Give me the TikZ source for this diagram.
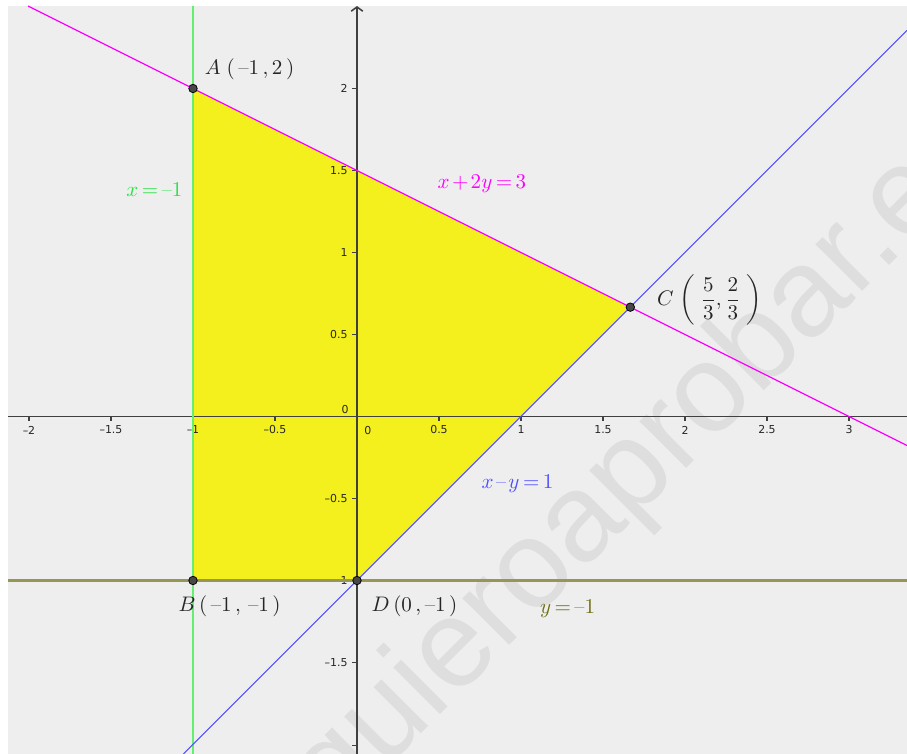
\documentclass[tikz,border=0pt]{standalone}
\usepackage{amsmath}
\usepackage{fontspec}
\newfontfamily\tickfont{DejaVu Sans}
\newfontfamily\markfont{Liberation Sans}
\usepackage{tikz}
\usetikzlibrary{arrows.meta}

\definecolor{panelgray}{RGB}{238,238,238}
\definecolor{regionyellow}{RGB}{243,240,30}
\definecolor{magline}{RGB}{255,0,255}
\definecolor{blueline}{RGB}{80,80,255}
\definecolor{greenline}{RGB}{100,240,110}
\definecolor{greentext}{RGB}{40,225,70}
\definecolor{oliveline}{RGB}{150,150,85}
\definecolor{olivetext}{RGB}{110,110,20}

\newcommand{\negsign}{\mathord{\text{\textendash}}}
\newcommand{\subsign}{\mathbin{\text{\textendash}}}
\newcommand{\tighteq}{\medmuskip=2mu\relax\thickmuskip=3mu\relax}

\begin{document}
\begin{tikzpicture}[x=3cm, y=3cm,
  axisline/.style={draw=black!75, line width=0.8pt},
  ticklabel/.style={font=\tickfont\fontsize{5.7}{6}\selectfont, text=black!85, inner sep=0pt},
  eqlabel/.style={font={\fontsize{10.5}{12}\selectfont\tighteq}, inner sep=0pt},
  ptlabel/.style={font=\fontsize{11}{13}\selectfont, text=black!85, inner sep=0pt},
  vertex/.style={circle, draw=black, fill=black!72, line width=0.4pt, inner sep=0pt, minimum size=4.4pt}]
\useasboundingbox (-2.1768,-2.0579) rectangle (3.3537,2.5396);
% graphics view
\fill[panelgray] (-2.128,-2.0579) rectangle (3.3537,2.503);
\begin{scope}
\clip (-2.128,-2.0579) rectangle (3.3537,2.503);
\node[rotate=45, text=black!13, inner sep=0pt, font=\markfont\fontsize{65}{70}\selectfont] (wm) at (1.756,-0.29) {quieroaprobar.es};
\end{scope}

% vertices
\coordinate (A) at (-1,2);
\coordinate (B) at (-1,-1);
\coordinate (C) at (5/3,2/3);
\coordinate (D) at (0,-1);

% feasible region
\fill[regionyellow] (A) -- (C) -- (D) -- (B) -- cycle;

% axes
\coordinate (xl) at (-2.128,0);
\coordinate (xr) at (3.3537,0);
\coordinate (yb) at (0,-2.0579);
\coordinate (yt) at (0,2.503);
\draw[axisline] (xl) -- (xr);
\draw[axisline, -{Straight Barb[length=2.2pt,width=6pt]}] (yb) -- (yt);
\foreach \v/\t [count=\i] in {-2/\textendash2, -1.5/\textendash1.5, -1/\textendash1, -0.5/\textendash0.5, 0.5/0.5, 1/1, 1.5/1.5, 2/2, 2.5/2.5, 3/3} {
  \draw[axisline] (\v,0) -- (\v,-0.025);
  \node[ticklabel] (xt\i) at (\v,-0.082) {\t};
}
\foreach \v/\t [count=\i] in {2/2, 1.5/1.5, 1/1, 0.5/0.5, -0.5/\textendash0.5, -1/\textendash1, -1.5/\textendash1.5} {
  \draw[axisline] (0,\v) -- (-0.03,\v);
  \node[ticklabel, anchor=east] (yt\i) at (-0.055,\v) {\t};
}
\draw[axisline] (0,-2.006) -- (-0.03,-2.006);
\node[ticklabel] (x0) at (0.067,-0.088) {0};
\node[ticklabel] (y0) at (-0.073,0.04) {0};

% constraint lines
\coordinate (g1) at (-1,2.503);
\coordinate (g2) at (-1,-2.0579);
\coordinate (m1) at (-2.006,2.503);
\coordinate (m2) at (3.3537,-0.1769);
\coordinate (b1) at (-1.0579,-2.0579);
\coordinate (b2) at (3.3537,2.3537);
\coordinate (o1) at (-2.128,-1);
\coordinate (o2) at (3.3537,-1);
\draw[greenline, line width=0.8pt] (g1) -- (g2);
\draw[magline, line width=0.6pt] (m1) -- (m2);
\draw[blueline, line width=0.55pt] (b1) -- (b2);
\draw[oliveline, line width=1.1pt] (o1) -- (o2);

% equations
\node[eqlabel, text=greentext] (eqg) at (-1.235,1.381) {$x=\negsign1$};
\node[eqlabel, text=magline] (eqm) at (0.762,1.418) {$x+2y=3$};
\node[eqlabel, text=blueline] (eqb) at (0.979,-0.41) {$x\subsign y=1$};
\node[eqlabel, text=olivetext] (eqo) at (1.284,-1.175) {$y=\negsign1$};

% points
\foreach \p in {A,B,C,D}
  \node[vertex] (dot\p) at (\p) {};
\node[ptlabel] (labA) at (-0.655,2.12) {$A\;(\,\negsign1\,,2\,)$};
\node[ptlabel] (labB) at (-0.777,-1.155) {$B\,(\,\negsign1\,,\,\negsign1\,)$};
\node[ptlabel] (labD) at (0.351,-1.155) {$D\,(0\,,\negsign1\,)$};
\node[ptlabel] (labC) at (2.149,0.71) {$C\;\biggl(\;\dfrac{5}{3},\dfrac{2}{3}\;\biggr)$};
\end{tikzpicture}
\end{document}
